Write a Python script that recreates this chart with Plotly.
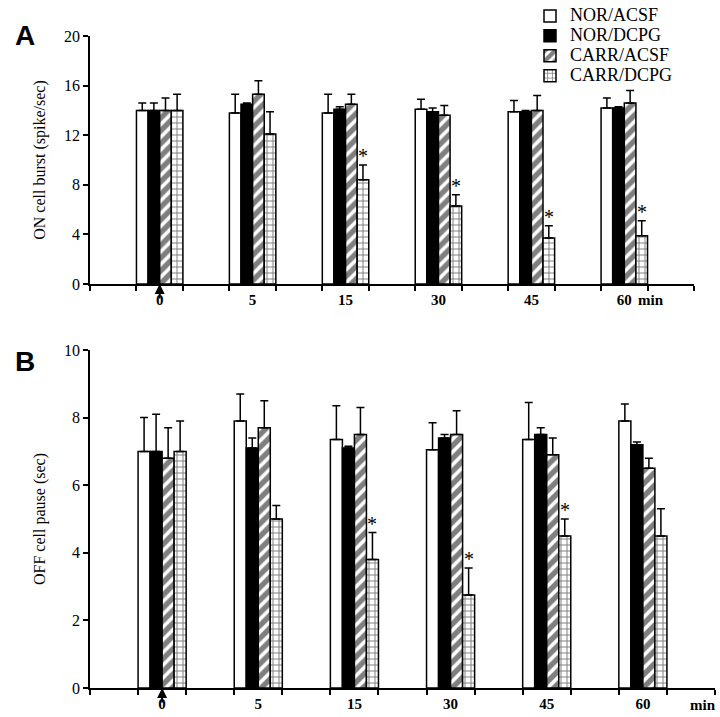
import plotly.graph_objects as go

# time points (min) and groups
times = ["0", "5", "15", "30", "45", "60"]
groups = ["NOR/ACSF", "NOR/DCPG", "CARR/ACSF", "CARR/DCPG"]

# A: ON cell burst (spike/sec), mean and upper SEM
on_nor_acsf = [14.0, 13.8, 13.8, 14.1, 13.9, 14.2]
on_nor_acsf_err = [0.6, 1.5, 1.5, 0.8, 0.9, 0.8]
on_nor_dcpg = [14.0, 14.5, 14.1, 13.9, 13.9, 14.2]
on_nor_dcpg_err = [0.6, 0.1, 0.2, 0.3, 0.1, 0.1]
on_carr_acsf = [14.0, 15.3, 14.5, 13.6, 14.0, 14.6]
on_carr_acsf_err = [1.0, 1.1, 0.8, 0.8, 1.2, 1.0]
on_carr_dcpg = [14.0, 12.1, 8.4, 6.3, 3.7, 3.9]
on_carr_dcpg_err = [1.3, 1.8, 1.2, 0.9, 1.0, 1.2]
on_sig = [False, False, True, True, True, True]

# B: OFF cell pause (sec)
off_nor_acsf = [7.0, 7.9, 7.35, 7.05, 7.35, 7.9]
off_nor_acsf_err = [1.0, 0.8, 1.0, 0.8, 1.1, 0.5]
off_nor_dcpg = [7.0, 7.1, 7.1, 7.4, 7.5, 7.2]
off_nor_dcpg_err = [1.1, 0.3, 0.05, 0.1, 0.2, 0.08]
off_carr_acsf = [6.8, 7.7, 7.5, 7.5, 6.9, 6.5]
off_carr_acsf_err = [0.9, 0.8, 0.8, 0.7, 0.5, 0.3]
off_carr_dcpg = [7.0, 5.0, 3.8, 2.75, 4.5, 4.5]
off_carr_dcpg_err = [0.9, 0.4, 0.8, 0.8, 0.5, 0.8]
off_sig = [False, False, True, True, True, False]

SERIF = "Liberation Serif"
W, H = 720, 717

# each time point sits in every other slot on the x axis
xpos = [2 * i + 1.5 for i in range(len(times))]

styles = [
    dict(color="white"),
    dict(color="black"),
    dict(color="white", pattern=dict(shape="/", fgcolor="black", bgcolor="white", size=9, solidity=0.6)),
    dict(color="white", pattern=dict(shape="+", fgcolor="black", bgcolor="white", size=6, solidity=0.3)),
]

fig = go.Figure()


def add_panel(series, errs, xa, ya, legend):
    for name, vals, err, st in zip(groups, series, errs, styles):
        fig.add_trace(go.Bar(
            x=xpos, y=vals, xaxis=xa, yaxis=ya,
            name='<span style="font-size:18px">%s</span>' % name,
            marker=dict(line=dict(color="black", width=1.5), **st),
            error_y=dict(type="data", symmetric=False, array=err,
                         arrayminus=[0] * len(err), color="black",
                         thickness=1.5, width=4),
            showlegend=legend,
        ))


add_panel([on_nor_acsf, on_nor_dcpg, on_carr_acsf, on_carr_dcpg],
          [on_nor_acsf_err, on_nor_dcpg_err, on_carr_acsf_err, on_carr_dcpg_err],
          "x", "y", True)
add_panel([off_nor_acsf, off_nor_dcpg, off_carr_acsf, off_carr_dcpg],
          [off_nor_acsf_err, off_nor_dcpg_err, off_carr_acsf_err, off_carr_dcpg_err],
          "x2", "y2", False)

annotations = []
# significance stars above CARR/DCPG bars
for xr, yr, vals, err, sig in [("x", "y", on_carr_dcpg, on_carr_dcpg_err, on_sig),
                               ("x2", "y2", off_carr_dcpg, off_carr_dcpg_err, off_sig)]:
    for i, s in enumerate(sig):
        if s:
            annotations.append(dict(x=xpos[i] + 0.375, y=vals[i] + err[i], xref=xr, yref=yr,
                                    text="*", showarrow=False, yanchor="bottom", yshift=-4,
                                    font=dict(family=SERIF, size=20, color="black")))
    # injection arrow at time 0
    annotations.append(dict(x=xpos[0], y=0, xref=xr, yref=yr, text="", showarrow=True,
                            ax=0, ay=16, arrowhead=2, arrowsize=1, arrowwidth=2,
                            arrowcolor="black"))

annotations += [
    dict(x=651 / W, y=1 - 300 / H, xref="paper", yref="paper", text="<b>min</b>",
         showarrow=False, xanchor="center", yanchor="middle",
         font=dict(family=SERIF, size=15, color="black")),
    dict(x=703 / W, y=1 - 705 / H, xref="paper", yref="paper", text="<b>min</b>",
         showarrow=False, xanchor="center", yanchor="middle",
         font=dict(family=SERIF, size=15, color="black")),
    dict(x=13 / W, y=1 - 18 / H, xref="paper", yref="paper", text="<b>A</b>",
         showarrow=False, font=dict(family="Liberation Sans", size=28, color="black")),
    dict(x=13 / W, y=1 - 361 / H, xref="paper", yref="paper", text="<b>B</b>",
         showarrow=False, font=dict(family="Liberation Sans", size=28, color="black")),
]

xcommon = dict(range=[0, 13], tickvals=xpos, ticktext=times, ticks="",
               showline=True, linecolor="black", linewidth=1.5,
               minor=dict(tickmode="array", tickvals=list(range(14)), ticks="outside",
                          ticklen=5, tickcolor="black", tickwidth=1.5),
               tickfont=dict(family=SERIF, size=15, color="black", weight="bold"),
               ticklabelstandoff=1, showgrid=False, zeroline=False, automargin=False,
               fixedrange=True)
ycommon = dict(showline=True, linecolor="black", linewidth=1.5, ticks="outside",
               ticklen=5, tickcolor="black", tickwidth=1.5, showgrid=False,
               zeroline=False, automargin=False, fixedrange=True,
               tickfont=dict(family=SERIF, size=16, color="black"))

fig.update_layout(
    width=W, height=H,
    margin=dict(l=0, r=0, t=0, b=0),
    paper_bgcolor="white", plot_bgcolor="white",
    barmode="group", bargap=0.5, bargroupgap=0,
    xaxis=dict(domain=[90 / W, 694 / W], anchor="y", **xcommon),
    xaxis2=dict(domain=[90 / W, 715 / W], anchor="y2", **xcommon),
    yaxis=dict(domain=[1 - 284 / H, 1 - 36 / H], anchor="x", range=[0, 20],
               tickvals=[0, 4, 8, 12, 16, 20],
               title=dict(text="ON cell burst (spike/sec)", standoff=14,
                          font=dict(family=SERIF, size=16, color="black")),
               **ycommon),
    yaxis2=dict(domain=[1 - 688 / H, 1 - 350 / H], anchor="x2", range=[0, 10],
                tickvals=[0, 2, 4, 6, 8, 10],
                title=dict(text="OFF cell pause (sec)", standoff=14,
                           font=dict(family=SERIF, size=16, color="black")),
                **ycommon),
    legend=dict(x=530 / W, y=1 - 1 / H, xanchor="left", yanchor="top",
                font=dict(family=SERIF, size=13, color="black"),
                tracegroupgap=0, itemwidth=30, bgcolor="rgba(0,0,0,0)"),
    annotations=annotations,
    font=dict(family=SERIF, color="black"),
)

fig.write_html("out.html", config={"displayModeBar": False},
               post_script="document.body.style.margin='0';")
